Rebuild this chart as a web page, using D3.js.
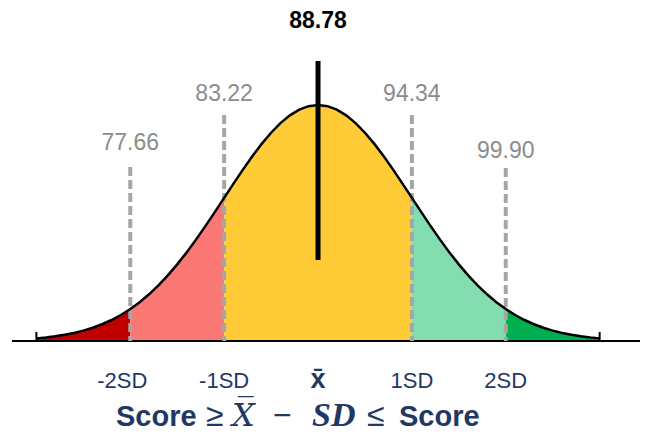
<!DOCTYPE html>
<html>
<head>
<meta charset="utf-8">
<script src="https://cdn.jsdelivr.net/npm/d3@7"></script>
<style>
  body { margin: 0; background: #fff; }
  svg { display: block; }
</style>
</head>
<body>
<svg width="647" height="435"></svg>
<script>
// data
var mean = 88.78;
var sd = 5.56;
var sdSteps = [-2, -1, 1, 2];
var sdValues = [77.66, 83.22, 94.34, 99.90];
var axisLabels = ["-2SD", "-1SD", "x\u0304", "1SD", "2SD"];
var axisSteps = [-2, -1, 0, 1, 2];
var bands = [
  {from: -3, to: -2, color: "#c00000"},
  {from: -2, to: -1, color: "#fa7773"},
  {from: -1, to: 1, color: "#ffcc38"},
  {from: 1, to: 2, color: "#84dcb1"},
  {from: 2, to: 3, color: "#00b050"}
];

var width = 647;
var height = 435;
var baseY = 341;

var svg = d3.select("svg")
            .attr("width", width)
            .attr("height", height);

var x = d3.scaleLinear()
          .domain([mean - 3.26*sd, mean + 3.43*sd])
          .range([12, 640]);

var pdf = function(v) {
  var z = (v - mean)/sd;
  return Math.exp(-0.5*z*z) / (sd*Math.sqrt(2*Math.PI));
};

var y = d3.scaleLinear()
          .domain([0, pdf(mean)])
          .range([baseY, 105]);

var pointsBetween = function(a, b) {
  var pts = [];
  var n = 60;
  for (var i = 0; i <= n; i++) {
    pts.push(mean + (a + (b - a)*i/n)*sd);
  }
  return pts;
};

var area = d3.area()
  .x(function(d){return x(d);})
  .y0(baseY)
  .y1(function(d){return y(pdf(d));});

svg.selectAll("path.band")
  .data(bands)
  .enter()
  .append("path")
  .attr("class", "band")
  .attr("d", function(d){return area(pointsBetween(d.from, d.to));})
  .attr("fill", function(d){return d.color;});

// axis line and small ticks at +-3SD
svg.append("line")
  .attr("x1", x.range()[0])
  .attr("x2", x.range()[1])
  .attr("y1", baseY)
  .attr("y2", baseY)
  .attr("stroke", "#000")
  .attr("stroke-width", 2);

svg.selectAll("line.tick3")
  .data([-3, 3])
  .enter()
  .append("line")
  .attr("class", "tick3")
  .attr("x1", function(d){return x(mean + d*sd);})
  .attr("x2", function(d){return x(mean + d*sd);})
  .attr("y1", baseY - 9)
  .attr("y2", baseY)
  .attr("stroke", "#000")
  .attr("stroke-width", 2);

// dashed sd lines
var lineTops = {"-2": 167, "-1": 115, "1": 115, "2": 168};
svg.selectAll("line.sd")
  .data(sdSteps)
  .enter()
  .append("line")
  .attr("class", "sd")
  .attr("x1", function(d){return x(mean + d*sd);})
  .attr("x2", function(d){return x(mean + d*sd);})
  .attr("y1", function(d){return lineTops[d];})
  .attr("y2", baseY)
  .attr("stroke", "#a6a6a6")
  .attr("stroke-width", 4)
  .attr("stroke-dasharray", "9,4");

// the curve
var line = d3.line()
  .x(function(d){return x(d);})
  .y(function(d){return y(pdf(d));});

svg.append("path")
  .attr("d", line(pointsBetween(-3, 3)))
  .attr("fill", "none")
  .attr("stroke", "#000")
  .attr("stroke-width", 2.5);

// mean line
svg.append("line")
  .attr("x1", x(mean))
  .attr("x2", x(mean))
  .attr("y1", 61)
  .attr("y2", 260)
  .attr("stroke", "#000")
  .attr("stroke-width", 5);

svg.append("text")
  .text(mean.toFixed(2))
  .attr("x", x(mean))
  .attr("y", 28)
  .attr("text-anchor", "middle")
  .attr("font-family", "Liberation Sans, Arial, sans-serif")
  .attr("font-weight", "bold")
  .attr("font-size", "23px")
  .attr("fill", "#000");

// value labels
var labelY = {"-2": 150, "-1": 101, "1": 101, "2": 158};
svg.selectAll("text.val")
  .data(sdSteps)
  .enter()
  .append("text")
  .attr("class", "val")
  .text(function(d,i){return sdValues[i].toFixed(2);})
  .attr("x", function(d){return x(mean + d*sd);})
  .attr("y", function(d){return labelY[d];})
  .attr("text-anchor", "middle")
  .attr("font-family", "Liberation Sans, Arial, sans-serif")
  .attr("font-size", "23px")
  .attr("fill", "#8c8c8c");

// bottom labels
svg.selectAll("text.sdlab")
  .data(axisLabels)
  .enter()
  .append("text")
  .attr("class", "sdlab")
  .text(function(d){return d;})
  .attr("x", function(d,i){return x(mean + axisSteps[i]*sd) + (i == 0 ? -8 : 0);})
  .attr("y", 388)
  .attr("text-anchor", "middle")
  .attr("font-family", "Liberation Sans, Arial, sans-serif")
  .attr("font-size", function(d,i){return axisSteps[i] == 0 ? "27px" : "22px";})
  .attr("font-weight", function(d,i){return axisSteps[i] == 0 ? "bold" : "normal";})
  .attr("fill", "#1f3864");

// formula title
var title = svg.append("text")
  .attr("y", 426)
  .attr("font-family", "Liberation Sans, Arial, sans-serif")
  .attr("font-weight", "bold")
  .attr("font-size", "29px")
  .attr("fill", "#1f3864");

title.append("tspan").text("Score").attr("x", 116);
title.append("tspan").text("\u2265").attr("x", 206).attr("font-size", "32px").attr("font-weight", "normal");
title.append("tspan").text("X\u0305").attr("x", 232)
  .attr("font-family", "DejaVu Serif, serif")
  .attr("font-style", "italic")
  .attr("font-weight", "normal")
  .attr("font-size", "32px");
title.append("tspan").text("\u2212").attr("x", 273).attr("font-weight", "normal").attr("font-size", "32px");
title.append("tspan").text("SD").attr("x", 312)
  .attr("font-family", "Liberation Serif, serif")
  .attr("font-style", "italic")
  .attr("font-size", "34px");
title.append("tspan").text("\u2264").attr("x", 367).attr("font-size", "32px").attr("font-weight", "normal");
title.append("tspan").text("Score").attr("x", 399);
</script>
</body>
</html>
